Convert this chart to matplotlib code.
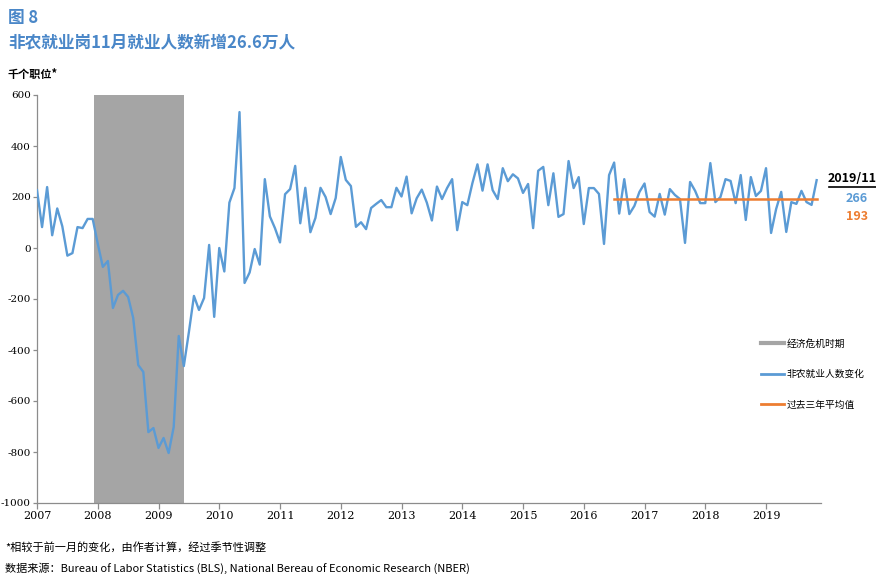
import matplotlib.pyplot as plt
import numpy as np
from matplotlib.lines import Line2D

plt.rcParams['font.family'] = ['Noto Sans CJK SC', 'DejaVu Sans']
plt.rcParams['axes.unicode_minus'] = False

# monthly change in nonfarm payrolls (thousands), Jan 2007 - Nov 2019
start_year = 2007
payrolls = [
    # 2007
    227, 82, 239, 50, 155, 85, -30, -20, 82, 78, 114, 114,
    # 2008
    17, -74, -51, -235, -184, -168, -192, -274, -459, -486, -722, -706,
    # 2009
    -784, -745, -804, -702, -345, -463, -330, -188, -243, -196, 12, -270,
    # 2010
    0, -92, 178, 235, 533, -137, -96, -4, -65, 270, 124, 78,
    # 2011
    22, 211, 231, 322, 97, 236, 62, 118, 236, 200, 133, 196,
    # 2012
    357, 267, 243, 83, 101, 74, 157, 173, 188, 160, 160, 236,
    # 2013
    202, 280, 136, 195, 229, 178, 108, 241, 192, 235, 270, 70,
    # 2014
    180, 168, 254, 328, 225, 328, 227, 192, 313, 262, 289, 273,
    # 2015
    216, 251, 78, 303, 318, 168, 293, 122, 133, 341, 235, 278,
    # 2016
    94, 235, 235, 212, 16, 286, 335, 135, 270, 133, 165, 220,
    # 2017
    253, 141, 123, 212, 131, 231, 208, 192, 20, 259, 224, 176,
    # 2018
    176, 333, 180, 200, 270, 263, 176, 286, 110, 278, 204, 224,
    # 2019
    313, 59, 153, 220, 63, 180, 173, 224, 180, 169, 266,
]
avg_value = 193
avg_start_month = 114          # index of the first month of the average line
recession = (2007 + 11.3 / 12, 2009 + 5 / 12)   # Dec 2007 - Jun 2009
years = list(range(2007, 2020))
yticks = [600, 400, 200, 0, -200, -400, -600, -800, -1000]
latest_label = '2019/11'

BLUE = '#5b9bd5'
ORANGE = '#ed7d31'
GRAY = '#a5a5a5'
TITLE = '#4a87c8'

x = start_year + np.arange(len(payrolls)) / 12
avg_x = x[avg_start_month:]

fig = plt.figure(figsize=(8.76, 5.74), dpi=100)
ax = fig.add_axes([37 / 876, 1 - 503 / 574, 784 / 876, 408 / 574])

ax.axvspan(recession[0], recession[1], color=GRAY, lw=0, zorder=1)
ax.plot(x, payrolls, color=BLUE, lw=1.7, zorder=3, solid_joinstyle='round')
ax.plot(avg_x, [avg_value] * len(avg_x), color=ORANGE, lw=1.8, zorder=4)

ax.set_xlim(2007, 2019.905)
ax.set_ylim(-1000, 600)
ax.set_yticks(yticks)
ax.set_xticks(years)
ax.set_xticklabels([str(y) for y in years], family='DejaVu Serif', fontsize=8)
ax.set_yticklabels([str(v) for v in yticks], family='DejaVu Serif', fontsize=7.5)
for side in ['top', 'right']:
    ax.spines[side].set_visible(False)
for side in ['left', 'bottom']:
    ax.spines[side].set_color('#8c8c8c')
    ax.spines[side].set_linewidth(0.9)
ax.tick_params(axis='both', direction='out', length=4, color='#8c8c8c', width=0.9, pad=2)
ax.tick_params(axis='y', length=3, pad=1.5)

# titles
fig.text(8 / 876, 1 - 18 / 574, '图 8', color=TITLE, fontsize=12, fontweight='bold', va='center')
fig.text(8 / 876, 1 - 42 / 574, '非农就业岗11月就业人数新增26.6万人', color=TITLE,
         fontsize=12, fontweight='bold', va='center')
fig.text(8 / 876, 1 - 74 / 574, '千个职位*', color='black', fontsize=8, fontweight='bold', va='center')

# latest values on the right
fig.text(852 / 876, 1 - 179 / 574, latest_label, fontsize=9, fontweight='bold', ha='center', va='center')
fig.add_artist(Line2D([829 / 876, 876 / 876], [1 - 187 / 574, 1 - 187 / 574], color='black', lw=1.2))
fig.text(857 / 876, 1 - 199 / 574, str(payrolls[-1]), color=BLUE, fontsize=9, fontweight='bold',
         ha='center', va='center')
fig.text(857 / 876, 1 - 217 / 574, str(avg_value), color=ORANGE, fontsize=9, fontweight='bold',
         ha='center', va='center')

handles = [Line2D([], [], color=GRAY, lw=3),
           Line2D([], [], color=BLUE, lw=2),
           Line2D([], [], color=ORANGE, lw=2)]
labels = ['经济危机时期', '非农就业人数变化', '过去三年平均值']
fig.legend(handles, labels, loc='upper left', bbox_to_anchor=(752 / 876, 1 - 330 / 574),
           frameon=False, fontsize=7, handlelength=2.4, handletextpad=0.3, labelspacing=2.1)

fig.text(5 / 876, 1 - 547 / 574, '*相较于前一月的变化，由作者计算，经过季节性调整', fontsize=8, va='center')
fig.text(5 / 876, 1 - 568 / 574,
         '数据来源：Bureau of Labor Statistics (BLS), National Bereau of Economic Research (NBER)',
         fontsize=8, va='center')

fig.savefig('out.png', dpi=100)
